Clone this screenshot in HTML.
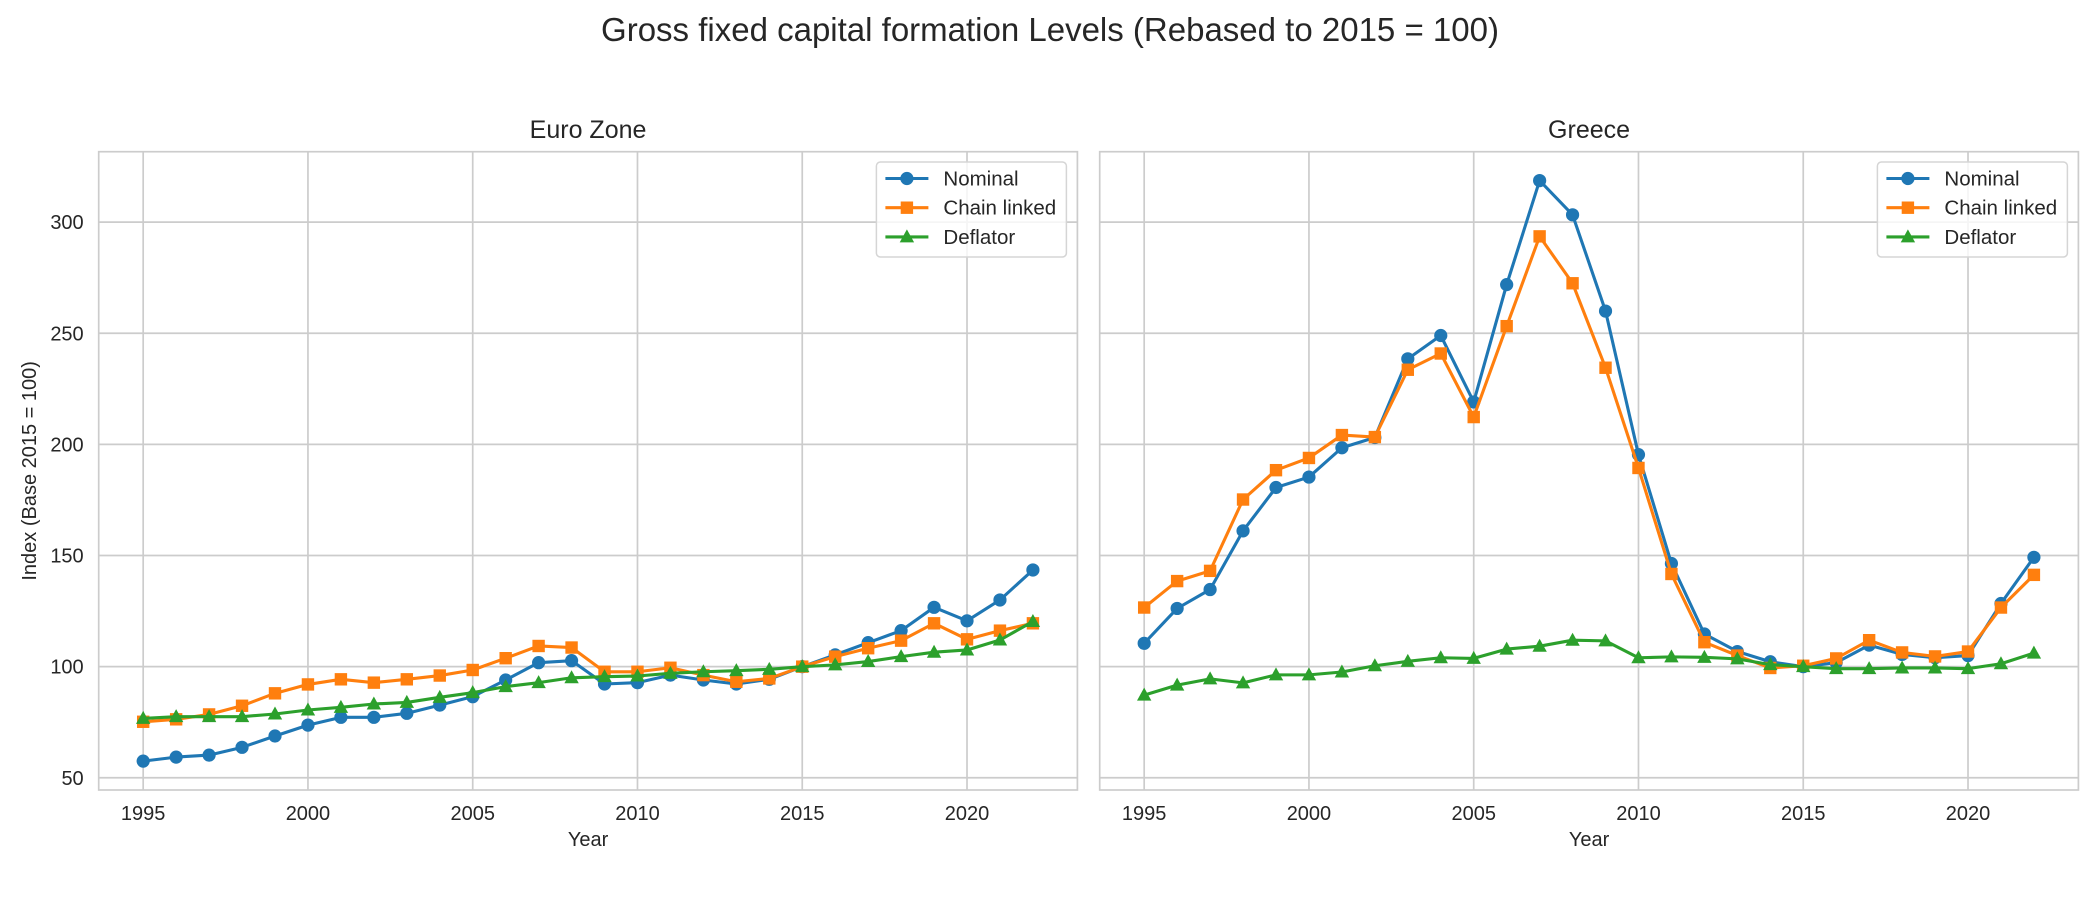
<!DOCTYPE html>
<html>
<head>
<meta charset="utf-8">
<style>
html,body{margin:0;padding:0;background:#fff;}
svg{display:block;font-family:"Liberation Sans",Arial,sans-serif;}
</style>
</head>
<body>
<svg id="fig" width="2100" height="900" viewBox="0 0 2100 900" xmlns="http://www.w3.org/2000/svg">
<rect width="2100" height="900" fill="#fff"/>
<text x="1050" y="41" font-size="33" fill="#262626" text-anchor="middle">Gross fixed capital formation Levels (Rebased to 2015 = 100)</text>
<g id="axes"></g>
</svg>
<script>
const years = [1995,1996,1997,1998,1999,2000,2001,2002,2003,2004,2005,2006,2007,2008,2009,2010,2011,2012,2013,2014,2015,2016,2017,2018,2019,2020,2021,2022];
const xTicks = [1995,2000,2005,2010,2015,2020];
const yTicks = [50,100,150,200,250,300];
const seriesNames = ["Nominal","Chain linked","Deflator"];
const euroNominal = [57.5,59.3,60.2,63.7,68.8,73.7,77.2,77.2,79,82.7,86.5,94,101.8,102.7,92.2,92.8,96.2,94,92.2,94.3,100,105.3,110.8,116.2,126.7,120.6,130,143.5];
const euroChain = [75.2,76.3,78.5,82.4,88,92,94.3,92.8,94.3,96,98.5,103.8,109.3,108.6,97.7,97.7,99.5,96.2,93.2,94.7,100,104.5,108.3,111.7,119.5,112.3,116.2,119.5];
const euroDeflator = [76.7,77.5,77.5,77.5,78.7,80.5,81.7,83.2,83.9,86.2,88.3,91,92.8,95,95.5,95.8,97,97.7,98.2,98.8,100,100.8,102.3,104.5,106.5,107.5,112,120.3];
const greeceNominal = [110.5,126.2,134.7,161.1,180.6,185.3,198.5,203.1,238.5,249,219.1,271.9,318.7,303.3,260,195.4,146.4,114.7,106.8,102.2,100,101.8,109.7,105.5,104,105,128.4,149.2];
const greeceChain = [126.6,138.5,143.1,175.2,188.4,193.9,204.2,203.3,233.6,240.9,212.3,253.2,293.6,272.5,234.5,189.4,141.7,111,105,99.4,100.4,103.7,111.9,106.4,104.6,106.8,126.6,141.3];
const greeceDeflator = [87.2,91.7,94.5,92.7,96.3,96.3,97.6,100.4,102.4,104,103.7,107.9,109.2,111.9,111.6,104,104.4,104.2,103.5,100.9,100,99.1,99.1,99.4,99.4,99.1,101.3,106.1];

const NS = "http://www.w3.org/2000/svg";
const root = document.getElementById('axes');
const colors = ["#1f77b4","#ff7f0e","#2ca02c"];
const markers = ["circle","square","triangle"];
const axTop = 151.7, axBottom = 790;
const yMin = 44.5, yMax = 331.7;
const xMin = 1993.65, xMax = 2023.35;

function mk(tag, attrs, parent){
  const e = document.createElementNS(NS, tag);
  for (const k in attrs) e.setAttribute(k, attrs[k]);
  parent.appendChild(e);
  return e;
}
function yScale(v){ return axBottom - (v - yMin) / (yMax - yMin) * (axBottom - axTop); }

function drawMarker(g, type, x, y, c, s){
  let m;
  if (type === "circle") m = mk('circle', {cx:x, cy:y, r:6.6*s, fill:c}, g);
  else if (type === "square") m = mk('rect', {x:x-6.2*s, y:y-6.2*s, width:12.4*s, height:12.4*s, fill:c}, g);
  else m = mk('polygon', {points:`${x},${y-7.5*s} ${x-7.2*s},${y+5.5*s} ${x+7.2*s},${y+5.5*s}`, fill:c}, g);
  return m;
}

function drawPanel(left, right, title, slug, data, showY){
  const xScale = v => left + (v - xMin) / (xMax - xMin) * (right - left);
  const g = mk('g', {}, root);
  
  
  xTicks.forEach(t => {
    const l = mk('line', {x1:xScale(t), x2:xScale(t), y1:axTop, y2:axBottom, stroke:"#cccccc", "stroke-width":1.7}, g);
    
    
    const tx = mk('text', {x:xScale(t), y:820, "font-size":20, fill:"#262626", "text-anchor":"middle"}, g);
    
    
    tx.textContent = t;
  });
  yTicks.forEach(t => {
    const l = mk('line', {x1:left, x2:right, y1:yScale(t), y2:yScale(t), stroke:"#cccccc", "stroke-width":1.7}, g);
    
    
    if (showY){
      const tx = mk('text', {x:left-15, y:yScale(t)+7, "font-size":20, fill:"#262626", "text-anchor":"end"}, g);
      
      
      tx.textContent = t;
    }
  });
  const fr = mk('rect', {x:left, y:axTop, width:right-left, height:axBottom-axTop, fill:"none", stroke:"#cccccc", "stroke-width":1.7}, g);
  
  
  const tt = mk('text', {x:(left+right)/2, y:138, "font-size":25, fill:"#262626", "text-anchor":"middle"}, g);
  
  
  tt.textContent = title;
  const xl = mk('text', {x:(left+right)/2, y:846, "font-size":20, fill:"#262626", "text-anchor":"middle"}, g);
  
  
  xl.textContent = "Year";
  if (showY){
    const yl = mk('text', {x:0, y:0, "font-size":20, fill:"#262626", "text-anchor":"middle", transform:`translate(36,${(axTop+axBottom)/2}) rotate(-90)`}, g);
    
    
    yl.textContent = "Index (Base 2015 = 100)";
  }
  data.forEach((vals, si) => {
    const sg = mk('g', {}, g);
    
    
    const pts = vals.map((v,i) => xScale(years[i]) + ',' + yScale(v)).join(' ');
    const pl = mk('polyline', {points:pts, fill:"none", stroke:colors[si], "stroke-width":3.1, "stroke-linejoin":"round"}, sg);
    
    
    vals.forEach((v,i) => {
      const m = drawMarker(sg, markers[si], xScale(years[i]), yScale(v), colors[si], 1);
      
      
    });
  });
  const lx = right - 201, ly = 162;
  const lg = mk('g', {}, g);
  
  
  mk('rect', {x:lx, y:ly, width:190, height:95, rx:4, fill:"#fff", "fill-opacity":0.8, stroke:"#d5d5d5", "stroke-width":1.5}, lg);
  seriesNames.forEach((n, si) => {
    const ey = 178.5 + si*29.2;
    const eg = mk('g', {}, lg);
    
    
    mk('line', {x1:lx+9, x2:lx+52, y1:ey, y2:ey, stroke:colors[si], "stroke-width":3.1}, eg);
    drawMarker(eg, markers[si], lx+30.5, ey, colors[si], 1);
    const t = mk('text', {x:lx+67, y:ey+7, "font-size":20.5, fill:"#262626"}, eg);
    t.textContent = n;
  });
}
drawPanel(98.7, 1077.4, "Euro Zone", "euro-zone", [euroNominal, euroChain, euroDeflator], true);
drawPanel(1099.7, 2078.4, "Greece", "greece", [greeceNominal, greeceChain, greeceDeflator], false);
</script>
</body>
</html>
